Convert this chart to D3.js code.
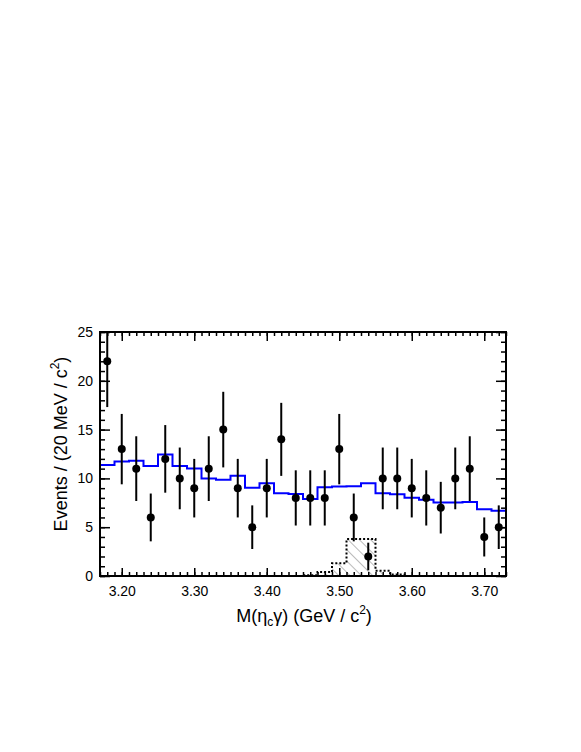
<!DOCTYPE html>
<html>
<head>
<meta charset="utf-8">
<script src="https://cdn.jsdelivr.net/npm/d3@7"></script>
<style>
  body { margin: 0; background: #fff; }
  svg { display: block; }
  text { font-family: "Liberation Sans", Arial, Helvetica, sans-serif; fill: #000; }
</style>
</head>
<body>
<script>
// ---- data ----
const binCenters = [3.18,3.20,3.22,3.24,3.26,3.28,3.30,3.32,3.34,3.36,3.38,3.40,3.42,3.44,3.46,3.48,3.50,3.52,3.54,3.56,3.58,3.60,3.62,3.64,3.66,3.68,3.70,3.72];
const dataCounts = [22,13,11,6,12,10,9,11,15,9,5,9,14,8,8,8,13,6,2,10,10,9,8,7,10,11,4,5];
const fitValues  = [11.37,11.72,11.82,11.27,12.45,11.27,11.02,10.0,9.87,10.28,9.05,9.5,8.47,8.4,7.9,9.09,9.17,9.2,9.5,8.47,8.37,8.02,7.8,7.52,7.52,7.58,6.83,6.69];
const signalValues = [0,0,0,0,0,0,0,0,0,0,0,0,0,0,0.08,0.4,1.3,3.78,3.78,0.55,0.15,0,0,0,0,0,0,0];
const xTickLabels = ["3.20","3.30","3.40","3.50","3.60","3.70"];
const yTickLabels = ["0","5","10","15","20","25"];
const binWidth = 0.02;

// ---- layout ----
const W = 581, H = 752;
const pL = 100, pR = 506, pT = 332, pB = 576;

const svg = d3.select("body").append("svg").attr("width", W).attr("height", H);

const x = d3.scaleLinear().domain([3.17, 3.73]).range([pL, pR]);
const y = d3.scaleLinear().domain([0, 25]).range([pB, pT]);

const defs = svg.append("defs");
defs.append("clipPath").attr("id", "clip")
  .append("rect").attr("x", pL).attr("y", pT).attr("width", pR - pL).attr("height", pB - pT);
const pat = defs.append("pattern").attr("id", "hatch")
  .attr("patternUnits", "userSpaceOnUse").attr("width", 8).attr("height", 8)
  .attr("patternTransform", "rotate(-45)");
pat.append("line").attr("x1", 0).attr("y1", 0).attr("x2", 0).attr("y2", 8)
  .attr("stroke", "#777").attr("stroke-width", 1);

const g = svg.append("g").attr("clip-path", "url(#clip)");

// signal hatched histogram
const sigPts = [];
binCenters.forEach((c, i) => sigPts.push([c - binWidth / 2, signalValues[i]]));
sigPts.push([binCenters[binCenters.length - 1] + binWidth / 2, signalValues[signalValues.length - 1]]);
const stepArea = d3.area().x(d => x(d[0])).y0(y(0)).y1(d => y(d[1])).curve(d3.curveStepAfter);
const stepLine = d3.line().x(d => x(d[0])).y(d => y(d[1])).curve(d3.curveStepAfter);
g.append("path").attr("d", stepArea(sigPts)).attr("fill", "url(#hatch)").attr("stroke", "none");
g.append("path").attr("d", stepLine(sigPts))
  .attr("fill", "none").attr("stroke", "#000").attr("stroke-width", 2)
  .attr("stroke-dasharray", "2,2");

// fit histogram (blue)
const fitPts = [];
binCenters.forEach((c, i) => fitPts.push([c - binWidth / 2, fitValues[i]]));
fitPts.push([binCenters[binCenters.length - 1] + binWidth / 2, fitValues[fitValues.length - 1]]);
g.append("path").attr("d", stepLine(fitPts))
  .attr("fill", "none").attr("stroke", "#0000ff").attr("stroke-width", 2);

// data points with sqrt(N) errors
binCenters.forEach((c, i) => {
  const n = dataCounts[i], e = Math.sqrt(n);
  g.append("line").attr("x1", x(c)).attr("x2", x(c))
    .attr("y1", y(n - e)).attr("y2", y(n + e))
    .attr("stroke", "#000").attr("stroke-width", 2);
  g.append("circle").attr("cx", x(c)).attr("cy", y(n)).attr("r", 4).attr("fill", "#000");
});

// ---- axes (ticks inward on all four sides) ----
const majorX = xTickLabels.map(Number);
const minorX = d3.range(317, 374).map(v => v / 100);
const majorY = yTickLabels.map(Number);
const minorY = d3.range(0, 26);

const axBottomMin = d3.axisBottom(x).tickValues(minorX).tickSize(-4).tickFormat("");
const axBottomMaj = d3.axisBottom(x).tickValues(majorX).tickSize(-8).tickFormat((d, i) => xTickLabels[i]).tickPadding(10);
const axTopMin = d3.axisTop(x).tickValues(minorX).tickSize(-4).tickFormat("");
const axTopMaj = d3.axisTop(x).tickValues(majorX).tickSize(-9).tickFormat("");
const axLeftMin = d3.axisLeft(y).tickValues(minorY).tickSize(-5).tickFormat("");
const axLeftMaj = d3.axisLeft(y).tickValues(majorY).tickSize(-10).tickFormat((d, i) => yTickLabels[i]).tickPadding(7);
const axRightMin = d3.axisRight(y).tickValues(minorY).tickSize(-5).tickFormat("");
const axRightMaj = d3.axisRight(y).tickValues(majorY).tickSize(-10).tickFormat("");

function addAxis(ax, tr) {
  const a = svg.append("g").attr("transform", tr).call(ax);
  a.select(".domain").remove();
  a.selectAll(".tick line").attr("stroke", "#000").attr("stroke-width", 1.5);
  a.selectAll(".tick text").attr("font-size", 14).attr("fill", "#000")
    .style("font-family", "'Liberation Sans', Arial, sans-serif");
  return a;
}
addAxis(axBottomMin, `translate(0,${pB})`);
addAxis(axBottomMaj, `translate(0,${pB})`);
addAxis(axTopMin, `translate(0,${pT})`);
addAxis(axTopMaj, `translate(0,${pT})`);
addAxis(axLeftMin, `translate(${pL},0)`);
addAxis(axLeftMaj, `translate(${pL},0)`);
addAxis(axRightMin, `translate(${pR},0)`);
addAxis(axRightMaj, `translate(${pR},0)`);

// frame
svg.append("rect").attr("x", pL).attr("y", pT).attr("width", pR - pL).attr("height", pB - pT)
  .attr("fill", "none").attr("stroke", "#000").attr("stroke-width", 2);

// x title
const xt = svg.append("text").attr("x", (pL + pR) / 2 + 1).attr("y", 622)
  .attr("text-anchor", "middle").attr("font-size", 18);
xt.append("tspan").text("M(η");
xt.append("tspan").attr("font-size", 12).attr("dy", 4).text("c");
xt.append("tspan").attr("dy", -4).text("γ) (GeV / c");
xt.append("tspan").attr("font-size", 12).attr("dy", -8).text("2");
xt.append("tspan").attr("dy", 8).text(")");

// y title
const yt = svg.append("text").attr("transform", `translate(67,444) rotate(-90)`)
  .attr("text-anchor", "middle").attr("font-size", 18);
yt.append("tspan").text("Events / (20 MeV / c");
yt.append("tspan").attr("font-size", 12).attr("dy", -8).text("2");
yt.append("tspan").attr("dy", 8).text(")");
</script>
</body>
</html>
